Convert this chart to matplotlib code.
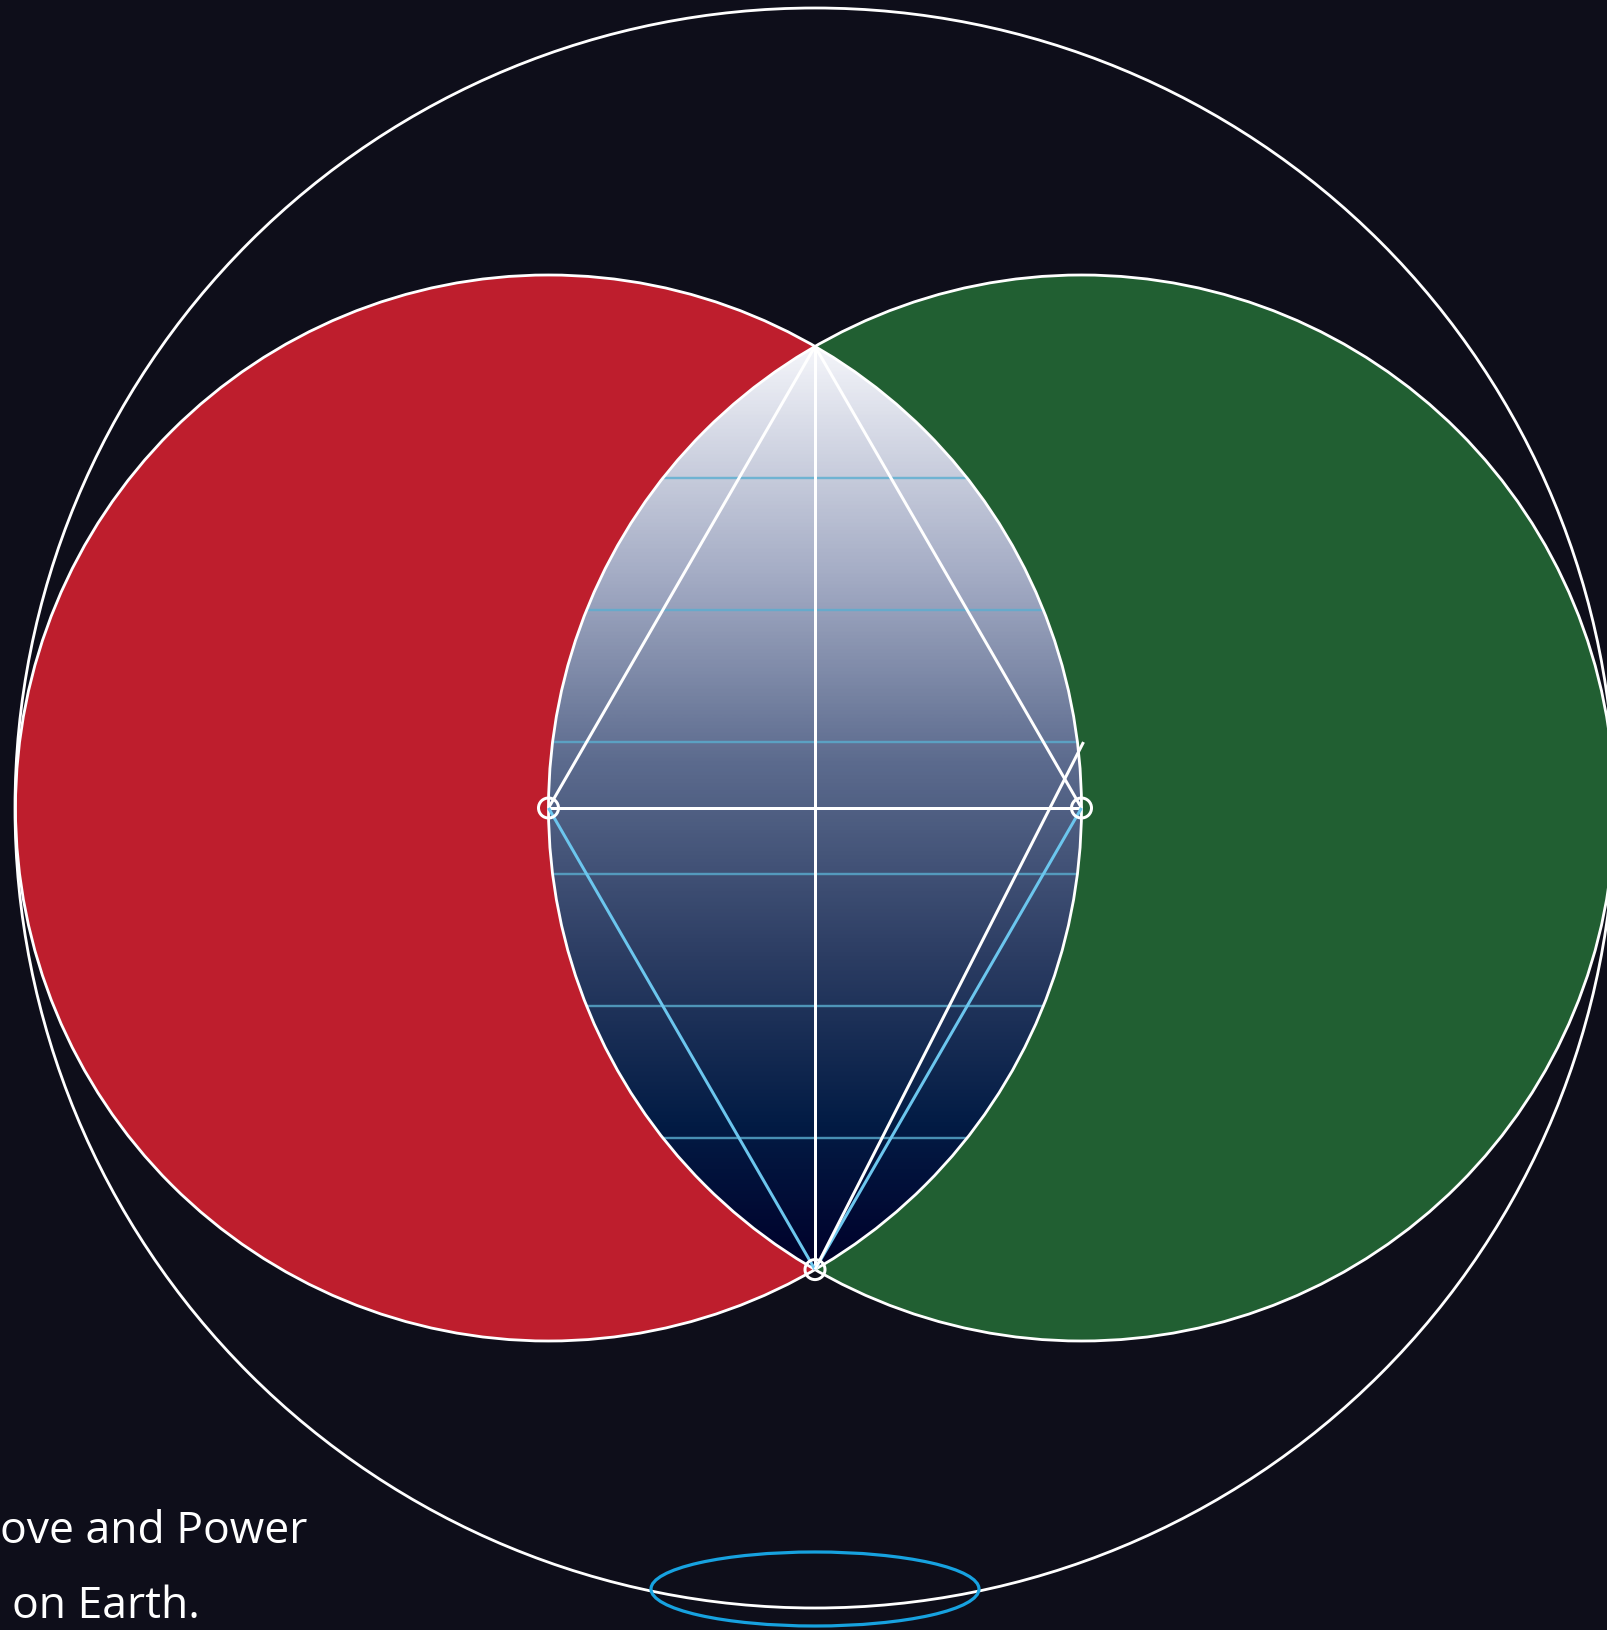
import numpy as np
import matplotlib.pyplot as plt
from matplotlib.patches import Circle, Ellipse, PathPatch
from matplotlib.path import Path
from matplotlib.colors import LinearSegmentedColormap

W, H = 1607, 1631
bg = '#0e0e1a'

# geometry (pixels, y down)
left_c = (548.5, 809.0)
right_c = (1081.5, 809.0)
r = 533.0
outer_c = (815.0, 809.0)
outer_r = 800.0
ellipse_c = (815.0, 1590.0)
ellipse_w, ellipse_h = 328, 74

red = '#be1e2d'
green = '#215f32'

# gradient of the vesica, top -> bottom
grad_pos = [0.0, 0.25, 0.45, 0.66, 0.84, 1.0]
grad_cols = ['#f4f5fa', '#a3abc4', '#5c6b8e', '#2c3d63', '#031c45', '#00002a']

# horizontal bands at k/7 of vesica height
band_fracs = [1/7, 2/7, 3/7, 4/7, 5/7, 6/7]

# visible part of the caption (it runs off the left edge)
text_lines = ["ove and Power", "on Earth."]

px = 0.72  # 1 px in points at dpi 100

fig = plt.figure(figsize=(W/100, H/100), dpi=100, facecolor=bg)
ax = fig.add_axes([0, 0, 1, 1])
ax.set_xlim(0, W)
ax.set_ylim(H, 0)
ax.axis('off')
ax.set_facecolor(bg)

half_h = r * np.sqrt(3) / 2
top = (outer_c[0], left_c[1] - half_h)
bottom = (outer_c[0], left_c[1] + half_h)

# filled circles
ax.add_patch(Circle(left_c, r, fc=red, ec='none', zorder=1))
ax.add_patch(Circle(right_c, r, fc=green, ec='none', zorder=1))

# vesica shape
t1 = np.radians(np.linspace(-60, 60, 200))
t2 = np.radians(np.linspace(120, 240, 200))
xs = np.concatenate([left_c[0] + r*np.cos(t1), right_c[0] + r*np.cos(t2)])
ys = np.concatenate([left_c[1] + r*np.sin(t1), right_c[1] + r*np.sin(t2)])
verts = np.column_stack([xs, ys])
vpath = Path(np.vstack([verts, verts[:1]]), closed=True)

cmap = LinearSegmentedColormap.from_list('ves', list(zip(grad_pos, grad_cols)))
grad = np.linspace(0, 1, 512).reshape(-1, 1)
im = ax.imshow(grad, cmap=cmap, aspect='auto', origin='upper',
               extent=(right_c[0]-r-5, left_c[0]+r+5, bottom[1], top[1]), zorder=2)
clip = PathPatch(vpath, transform=ax.transData, fc='none', ec='none')
ax.add_patch(clip)
im.set_clip_path(clip)

# horizontal light blue bands
for f in band_fracs:
    y = top[1] + f * (bottom[1] - top[1])
    dy = y - left_c[1]
    hw = np.sqrt(r**2 - dy**2)
    ax.plot([right_c[0] - hw, left_c[0] + hw], [y, y], color='#5aaed0', alpha=0.8,
            lw=2.4*px, zorder=3)

# outlines
ax.add_patch(Circle(left_c, r, fc='none', ec='white', lw=2.8*px, zorder=4))
ax.add_patch(Circle(right_c, r, fc='none', ec='white', lw=2.8*px, zorder=4))
ax.add_patch(Circle(outer_c, outer_r, fc='none', ec='white', lw=2.8*px, zorder=4))

# construction lines
wl = dict(color='white', lw=3.0*px, zorder=5, solid_capstyle='butt')
bl = dict(color='#6cc6ee', lw=3.0*px, zorder=5, solid_capstyle='butt')
ax.plot([top[0], left_c[0]], [top[1], left_c[1]], **wl)
ax.plot([top[0], right_c[0]], [top[1], right_c[1]], **wl)
ax.plot([top[0], bottom[0]], [top[1], bottom[1]], **wl)
ax.plot([left_c[0], right_c[0]], [left_c[1], right_c[1]], **wl)
ax.plot([left_c[0], bottom[0]], [left_c[1], bottom[1]], **bl)
ax.plot([right_c[0], bottom[0]], [right_c[1], bottom[1]], **bl)
y3 = top[1] + band_fracs[2] * (bottom[1] - top[1])
ax.plot([bottom[0], right_c[0] + 2], [bottom[1], y3], **wl)

# point markers
for p in [left_c, right_c, bottom]:
    ax.add_patch(Circle(p, 10, fc='none', ec='white', lw=3.0*px, zorder=6))

# bottom ellipse
ax.add_patch(Ellipse(ellipse_c, ellipse_w, ellipse_h, fc='none', ec='#17a2e0',
                     lw=3.2*px, zorder=6))

# text
ax.text(0, 1543, text_lines[0], color='white', fontsize=32, family='Open Sans',
        ha='left', va='baseline', zorder=7)
ax.text(12, 1618, text_lines[1], color='white', fontsize=32, family='Open Sans',
        ha='left', va='baseline', zorder=7)

fig.savefig('out.png', dpi=100, facecolor=bg)
